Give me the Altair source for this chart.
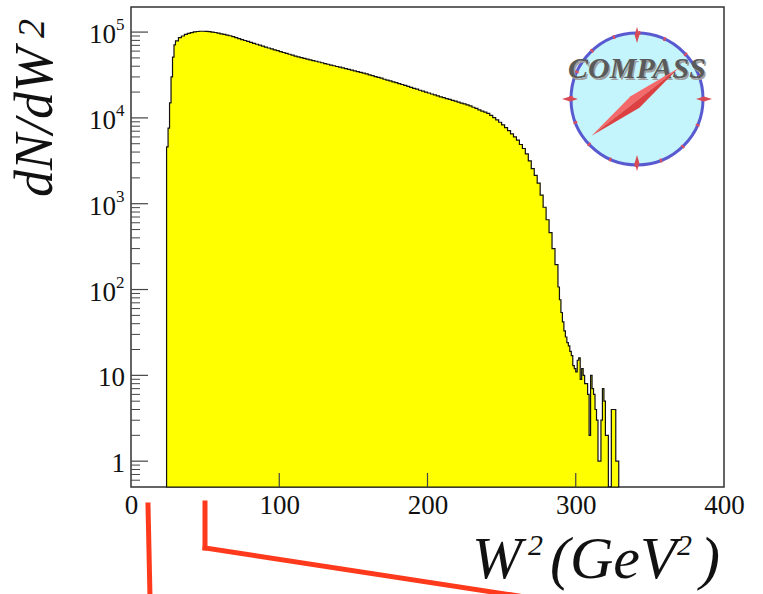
import altair as alt
import pandas as pd

# ---------------- data ----------------
rise_edges = [24, 25, 26, 27, 28, 29]
rise_counts = [4600, 7600, 15000, 30000, 51000, 71000]

body_start = 30
body_width = 2
body_counts = [
    79000, 86000, 90000, 94000, 96600, 98800, 100400, 101600, 102300, 102300,
    101800, 101000, 100000, 98900, 97300, 95500, 93800, 92300, 90600, 88300,
    86100, 83900, 81800, 79800, 77800, 75900, 74000, 72100, 70300, 68500,
    66700, 65200, 63700, 62100, 60700, 59300, 57800, 56500, 55200, 53800,
    52600, 51500, 50500, 49500, 48500, 47500, 46600, 45700, 44800, 43900,
    43000, 42200, 41300, 40500, 39700, 39000, 38200, 37500, 36700, 36000,
    35300, 34700, 34000, 33300, 32600, 31800, 31100, 30300, 29600, 29000,
    28200, 27600, 27000, 26300, 25700, 25100, 24500, 23900, 23300, 22700,
    22100, 21600, 21000, 20500, 20000, 19500, 19000, 18500, 18100, 17600,
    17200, 16800, 16400, 16000, 15700, 15300, 14900, 14600, 14200, 13800,
    13300, 12900, 12400, 12000, 11700, 11300, 10700, 10100, 9500, 8900,
    8300, 7700, 7100, 6500, 6000, 5500, 4900, 4400, 3800, 3160,
    2570, 2140, 1740, 1260, 910, 650, 460, 300, 195,
]

tail_width = 1
tail_counts = [
    107, 76, 54, 42, 33, 28, 24, 22, 19, 17, 13, 12, 11, 15, 16, 9, 12, 10,
    8, 8, 6, 2, 10, 7, 6, 4, 3, 1, 1, 3, 7, 5, 2, 2, 0, 0, 4, 4, 4, 1, 1,
]

x_label_values = [0, 100, 200, 300, 400]
x_major_ticks = [100, 200, 300]
y_decades = [1, 10, 100, 1000, 10000, 100000]
y_label_bases = ["1", "10", "10", "10", "10", "10"]
y_label_exps = ["", "", "2", "3", "4", "5"]
y_minor_multipliers = [2, 3, 4, 5, 6, 7, 8, 9]
y_minor_below_one = [0.6, 0.7, 0.8, 0.9]

# ---------------- build tables ----------------
body_edges = [body_start + body_width * i for i in range(len(body_counts))]
tail_start = body_start + body_width * len(body_counts)
tail_edges = [tail_start + tail_width * i for i in range(len(tail_counts))]
end_edge = tail_start + tail_width * len(tail_counts)

hist_df = pd.DataFrame({
    "w2": rise_edges + body_edges + tail_edges + [end_edge],
    "n": rise_counts + body_counts + tail_counts + [0],
})

minor_vals = list(y_minor_below_one)
for d in y_decades[:-1]:
    minor_vals += [m * d for m in y_minor_multipliers]

ylab_df = pd.DataFrame({"v": y_decades, "base": y_label_bases, "exp": y_label_exps})
ylab_plain = ylab_df[ylab_df["exp"] == ""]
ylab_pow = ylab_df[ylab_df["exp"] != ""]

W, H = 593, 480
YMIN, YMAX = 0.5, 196000
SERIF = "Liberation Serif"
INK = "#111111"

xscale = alt.Scale(domain=[0, 400], nice=False, zero=False)
yscale = alt.Scale(type="log", domain=[YMIN, YMAX], nice=False)

xaxis = alt.Axis(
    values=x_label_values, ticks=False, domain=False, grid=False,
    labelFont=SERIF, labelFontSize=27, labelColor=INK, labelFlush=False,
    labelPadding=5, title=None,
)
yaxis = alt.Axis(labels=False, ticks=False, domain=False, grid=False, title=None)

hist = alt.Chart(hist_df).transform_calculate(
    yv=f"max(datum.n, {YMIN})"
).mark_area(
    interpolate="step-after", fill="#ffff00", stroke=INK, strokeWidth=1.2
).encode(
    x=alt.X("w2:Q", scale=xscale, axis=xaxis),
    y=alt.Y("yv:Q", scale=yscale, axis=yaxis),
    y2=alt.datum(YMIN),
)

ymajor = alt.Chart(pd.DataFrame({"v": y_decades})).mark_rule(
    color="#444", strokeWidth=1.2
).encode(y=alt.Y("v:Q", scale=yscale, axis=yaxis), x=alt.value(0), x2=alt.value(17))

yminor = alt.Chart(pd.DataFrame({"v": minor_vals})).mark_rule(
    color="#444", strokeWidth=1
).encode(y=alt.Y("v:Q", scale=yscale, axis=yaxis), x=alt.value(0), x2=alt.value(9))

xmajor = alt.Chart(pd.DataFrame({"v": x_major_ticks})).mark_rule(
    color="#444", strokeWidth=1.2
).encode(x=alt.X("v:Q", scale=xscale, axis=xaxis), y=alt.value(H), y2=alt.value(H - 14))

ylab_plain_t = alt.Chart(ylab_plain).mark_text(
    font=SERIF, fontSize=27, align="right", baseline="middle", dy=3, color=INK
).encode(y=alt.Y("v:Q", scale=yscale, axis=yaxis), x=alt.value(-6), text="base:N")

ylab_base_t = alt.Chart(ylab_pow).mark_text(
    font=SERIF, fontSize=27, align="right", baseline="middle", dy=3, color=INK
).encode(y=alt.Y("v:Q", scale=yscale, axis=yaxis), x=alt.value(-15), text="base:N")

ylab_exp_t = alt.Chart(ylab_pow).mark_text(
    font=SERIF, fontSize=17, align="left", baseline="middle", dy=-7, color=INK
).encode(y=alt.Y("v:Q", scale=yscale, axis=yaxis), x=alt.value(-15), text="exp:N")

one = pd.DataFrame({"a": [0]})


def txt(s, x, y, size, align="left", angle=0):
    kw = dict(text=s, font=SERIF, fontSize=size, fontStyle="italic", color=INK,
              align=align, baseline="alphabetic")
    if angle:
        kw["angle"] = angle
    return alt.Chart(one).mark_text(**kw).encode(x=alt.value(x), y=alt.value(y))


# axis titles: W^2 (GeV^2) and dN/dW^2
xt = [
    txt("W", 341, 571, 60),
    txt("2", 397, 548, 30),
    txt("(GeV", 419, 571, 60),
    txt("2", 546, 548, 30),
    txt(")", 569, 571, 60),
]
yt = [
    txt("dN/dW", -79, 190, 54, angle=270),
    txt("2", -87, 31, 38, angle=270),
]

# ---------------- COMPASS logo (decoration) ----------------
CX, CY = 506, 92
DISK = 132 * 132
disk = alt.Chart(one).mark_point(
    shape="circle", size=DISK, filled=True, fill="#c4f5fd", fillOpacity=1,
    stroke="#5a5ad0", strokeWidth=3, opacity=1
).encode(x=alt.value(CX), y=alt.value(CY))

ring_dots = alt.Chart(one).mark_point(
    shape="circle", size=DISK, filled=False, stroke="#e0505a", strokeWidth=4,
    strokeDash=[2, 24], opacity=1
).encode(x=alt.value(CX), y=alt.value(CY))

diamond_v = "M 0 -1 L 0.3 0 L 0 1 L -0.3 0 Z"
RED2 = "#d84a55"
card_n = alt.Chart(one).mark_point(shape=diamond_v, size=256, filled=True, color=RED2, opacity=1
                                   ).encode(x=alt.value(CX), y=alt.value(CY - 64))
card_s = alt.Chart(one).mark_point(shape=diamond_v, size=256, filled=True, color=RED2, opacity=1
                                   ).encode(x=alt.value(CX), y=alt.value(CY + 64))
card_e = alt.Chart(one).mark_point(shape=diamond_v, size=256, angle=90, filled=True, color=RED2, opacity=1
                                   ).encode(x=alt.value(CX + 67), y=alt.value(CY))
card_w = alt.Chart(one).mark_point(shape=diamond_v, size=256, angle=90, filled=True, color=RED2, opacity=1
                                   ).encode(x=alt.value(CX - 67), y=alt.value(CY))

logo_shadow = alt.Chart(one).mark_text(
    text="COMPASS", font=SERIF, fontSize=30, fontStyle="italic", fontWeight="bold",
    color="#a0a0a0", align="center", baseline="alphabetic", dx=1.5, dy=1.5
).encode(x=alt.value(CX), y=alt.value(71))
logo_text = alt.Chart(one).mark_text(
    text="COMPASS", font=SERIF, fontSize=30, fontStyle="italic", fontWeight="bold",
    color="#5a5a5a", align="center", baseline="alphabetic"
).encode(x=alt.value(CX), y=alt.value(71))

needle_a = alt.Chart(one).mark_point(
    shape="M -1 0 L 0 -0.13 L 1 0 Z", size=12100, angle=322, filled=True,
    color="#f46a6a", opacity=1
).encode(x=alt.value(CX - 2), y=alt.value(CY + 3))
needle_b = alt.Chart(one).mark_point(
    shape="M -1 0 L 0 0.13 L 1 0 Z", size=12100, angle=322, filled=True,
    color="#dd4040", opacity=1
).encode(x=alt.value(CX - 2), y=alt.value(CY + 3))

# ---------------- red annotation lines ----------------
RED = "#ff3a1c"
red1 = alt.Chart(one).mark_rule(color=RED, strokeWidth=5, strokeCap="square").encode(
    x=alt.value(17), y=alt.value(498), x2=alt.value(19), y2=alt.value(590))
red2 = alt.Chart(one).mark_rule(color=RED, strokeWidth=5, strokeCap="square").encode(
    x=alt.value(74), y=alt.value(496), x2=alt.value(74), y2=alt.value(541))
red3 = alt.Chart(one).mark_rule(color=RED, strokeWidth=5, strokeCap="square").encode(
    x=alt.value(74), y=alt.value(541), x2=alt.value(394), y2=alt.value(590))

chart = alt.layer(
    hist, ymajor, yminor, xmajor, ylab_plain_t, ylab_base_t, ylab_exp_t,
    *xt, *yt,
    disk, ring_dots, card_n, card_s, card_e, card_w, logo_shadow, logo_text,
    needle_a, needle_b,
    red1, red2, red3,
).properties(
    width=W, height=H,
    autosize="none",
    padding={"left": 131, "top": 7, "right": 39, "bottom": 107},
    background="white",
).configure_view(
    stroke="#333333", strokeWidth=1.5
)

chart.save("out.html", embed_options={"renderer": "svg", "actions": False})
